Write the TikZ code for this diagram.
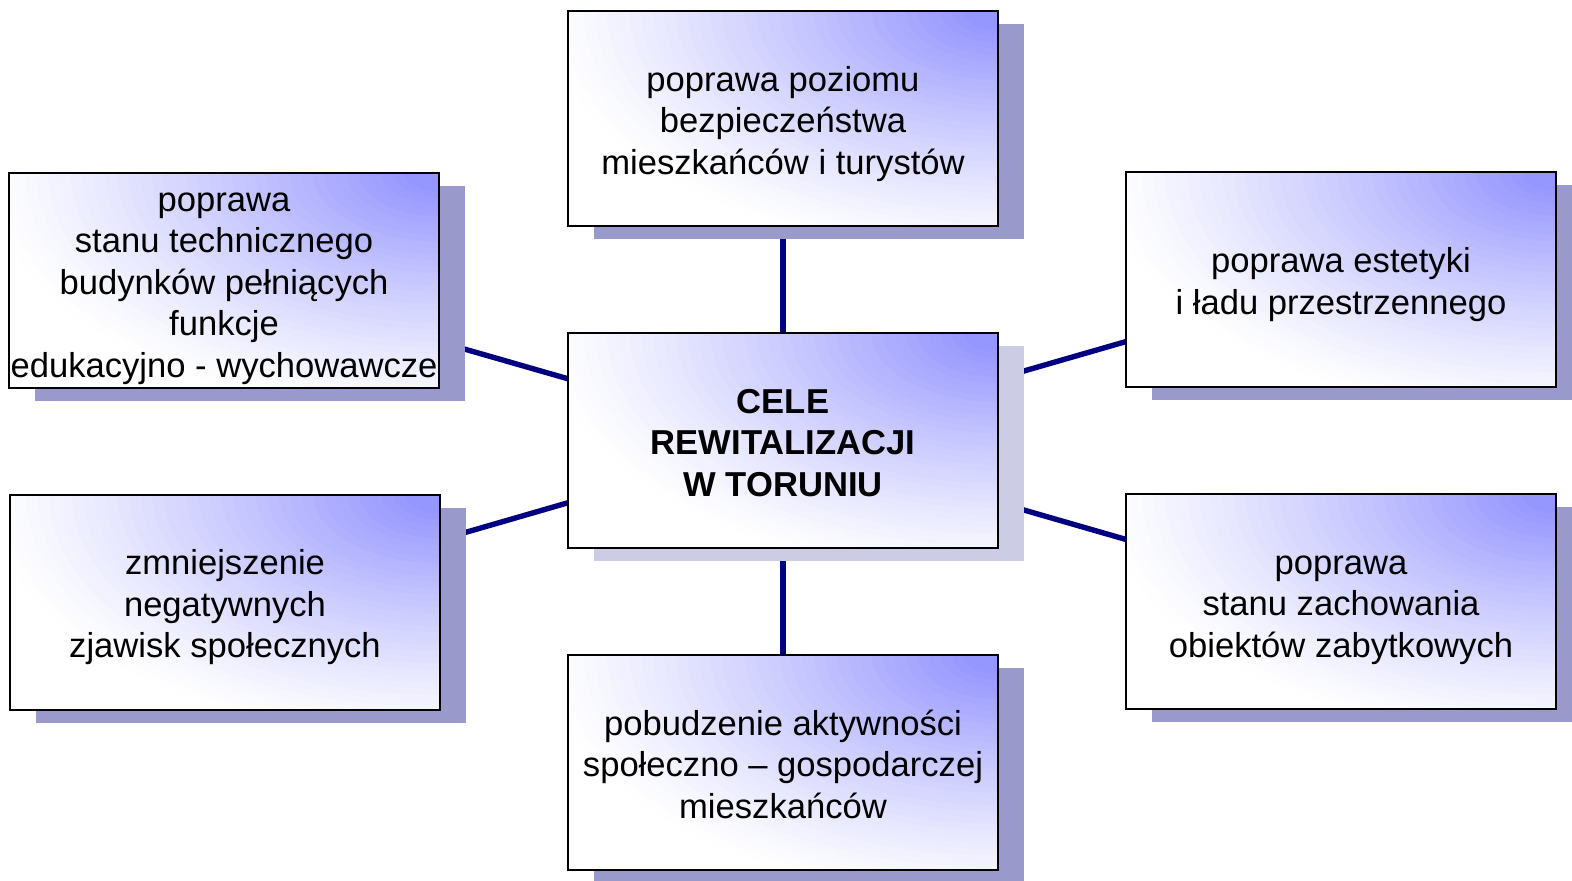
\documentclass[tikz,border=0pt]{standalone}
\usepackage{fontspec}
\setmainfont{Liberation Sans}
\usetikzlibrary{shadows,backgrounds}
\definecolor{glow}{RGB}{150,150,255}
\definecolor{shd}{RGB}{153,153,204}
\definecolor{shdc}{RGB}{204,204,229}
\definecolor{navyc}{RGB}{0,0,128}
\newcommand\toprule{\rule{0pt}{18pt}}
\tikzset{
 goal/.style={draw=black, line width=1pt, minimum width=215pt, minimum height=107.5pt,
  inner sep=0pt, align=center, font=\fontsize{17.3}{20.75}\selectfont, fill=white,
  execute at end node={\rule[-3.8pt]{0pt}{0pt}},
  path picture={
    \foreach \i in {0,...,39}{
      \pgfmathsetmacro\f{1-\i/40}
      \pgfmathsetmacro\p{min(100,110*(1-\f)^1.2)}
      \fill[glow!\p!white] (path picture bounding box.north east)
         ellipse ({230pt*\f} and {125pt*\f});
    }},
  drop shadow={shadow xshift=13pt, shadow yshift=-6.5pt, fill=#1, opacity=1}},
 goal/.default=shd,
 link/.style={draw=navyc, line width=2.7pt}
}
\begin{document}
\begin{tikzpicture}[x=0.5pt,y=-0.5pt]
\clip (0,0) rectangle (1572,880);
\node[goal] (top) at (783,118.5) {\toprule poprawa poziomu\\bezpieczeństwa\\mieszkańców i turystów};
\node[goal] (lt) at (224,280) {\toprule poprawa\\stanu technicznego\\budynków pełniących\\funkcje\\edukacyjno - wychowawcze};
\node[goal] (rt) at (1341,279.5) {\toprule poprawa estetyki\\i ładu przestrzennego};
\node[goal=shdc, font=\fontsize{17.3}{20.75}\selectfont\bfseries] (c) at (783,440.5) {\toprule CELE\\REWITALIZACJI\\W TORUNIU};
\node[goal] (lb) at (225,602) {\toprule zmniejszenie\\negatywnych\\zjawisk społecznych};
\node[goal] (rb) at (1341,601.5) {\toprule poprawa\\stanu zachowania\\obiektów zabytkowych};
\node[goal] (b) at (783,762.5) {\toprule pobudzenie aktywności\\społeczno – gospodarczej\\mieszkańców};
\begin{scope}[on background layer]
\draw[link] (c.center) -- (top.center);
\draw[link] (c.center) -- (lt.center);
\draw[link] (c.center) -- (rt.center);
\draw[link] (c.center) -- (lb.center);
\draw[link] (c.center) -- (rb.center);
\draw[link] (c.center) -- (b.center);
\end{scope}
\end{tikzpicture}
\end{document}
